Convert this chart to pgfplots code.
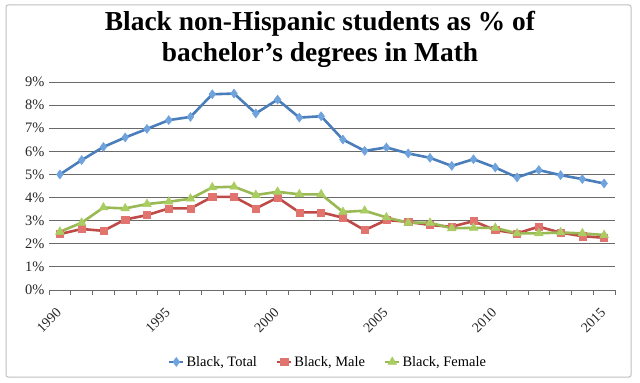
\documentclass[border=0pt]{standalone}
\usepackage{pgfplots}
\pgfplotsset{compat=1.18}
\usepackage{pgfplotstable}
\usepackage{fontspec}
\setmainfont{Liberation Serif}
\definecolor{totline}{HTML}{4A7EBB}
\definecolor{totmark}{HTML}{6FA3DE}
\definecolor{maleline}{HTML}{BE4B48}
\definecolor{malemark}{HTML}{E27470}
\definecolor{femline}{HTML}{98B954}
\definecolor{femmark}{HTML}{AACD62}
\definecolor{gridc}{HTML}{6A6A6A}
\pgfplotstableread{
year total male female
1990 5.00 2.42 2.52
1991 5.62 2.64 2.91
1992 6.19 2.56 3.57
1993 6.60 3.05 3.53
1994 6.97 3.24 3.72
1995 7.35 3.53 3.82
1996 7.49 3.53 3.95
1997 8.47 4.03 4.44
1998 8.50 4.03 4.47
1999 7.64 3.53 4.11
2000 8.24 4.00 4.25
2001 7.46 3.36 4.14
2002 7.52 3.36 4.14
2003 6.51 3.13 3.38
2004 6.02 2.59 3.43
2005 6.17 3.03 3.14
2006 5.91 2.95 2.91
2007 5.72 2.81 2.91
2008 5.37 2.74 2.67
2009 5.66 2.98 2.69
2010 5.30 2.59 2.69
2011 4.87 2.45 2.45
2012 5.19 2.74 2.45
2013 4.97 2.48 2.49
2014 4.80 2.33 2.45
2015 4.61 2.26 2.38
}\datatable
\begin{document}
\begin{tikzpicture}[x=1bp,y=1bp]
\path[use as bounding box] (0,0) rectangle (640,382);
\draw[draw=black!25, line width=1bp, rounded corners=2bp] (6,5) rectangle (631,377);
\node[font=\fontsize{27.5}{31}\selectfont\bfseries, align=center] at (320,343) {Black non-Hispanic students as \% of\\bachelor's degrees in Math};
\begin{axis}[
  at={(49bp,92bp)}, anchor=south west,
  scale only axis, width=566bp, height=208bp,
  xmin=1989.5, xmax=2015.5, ymin=0, ymax=9,
  separate axis lines,
  axis x line*=bottom, axis y line*=left,
  x axis line style={gridc, line width=0.8bp, -},
  y axis line style={draw=none},
  xtick={1990,1995,...,2015},
  xticklabel={\pgfmathprintnumber[1000 sep={}]{\tick}},
  minor xtick={1989.5,1990.5,...,2015.5},
  major tick length=0pt, minor tick length=5bp, tick align=outside,
  x tick style={gridc, line width=0.8bp},
  xticklabel style={rotate=45, anchor=north east, font=\fontsize{14}{14}\selectfont, text=black!85, inner sep=0bp, xshift=-14.8bp, yshift=-8.5bp},
  ytick={0,1,...,9},
  yticklabel={\pgfmathprintnumber{\tick}\%},
  yticklabel style={font=\fontsize{14.5}{14.5}\selectfont, text=black!85, xshift=-1bp},
  ymajorgrids, grid style={gridc, line width=0.8bp},
  y tick style={draw=none},
  /pgf/number format/assume math mode=true,
  legend columns=3,
  legend style={at={(0.5,-0.346)}, anchor=center, xshift=-4bp, draw=none, font=\fontsize{14.5}{14.5}\selectfont,
    /tikz/every odd column/.append style={column sep=0bp},
    /tikz/every even column/.append style={column sep=17bp}},
  legend image code/.code={\draw[#1, line width=2.5bp] (0bp,0bp) -- (14bp,0bp); \draw[#1, only marks] plot coordinates {(7bp,0bp)};},
]
\addplot[totline, line width=2.6bp, mark=diamond*, mark size=4.5bp, mark options={fill=totmark, draw=totmark, line width=0.5bp}] table[x=year,y=total] {\datatable};
\addlegendentry{Black, Total}
\addplot[maleline, line width=2.6bp, mark=square*, mark size=3.6bp, mark options={fill=malemark, draw=malemark, line width=0.5bp}] table[x=year,y=male] {\datatable};
\addlegendentry{Black, Male}
\addplot[femline, line width=2.6bp, mark=triangle*, mark size=5bp, mark options={fill=femmark, draw=femmark, line width=0.5bp}] table[x=year,y=female] {\datatable};
\addlegendentry{Black, Female}
\end{axis}
\end{tikzpicture}
\end{document}
